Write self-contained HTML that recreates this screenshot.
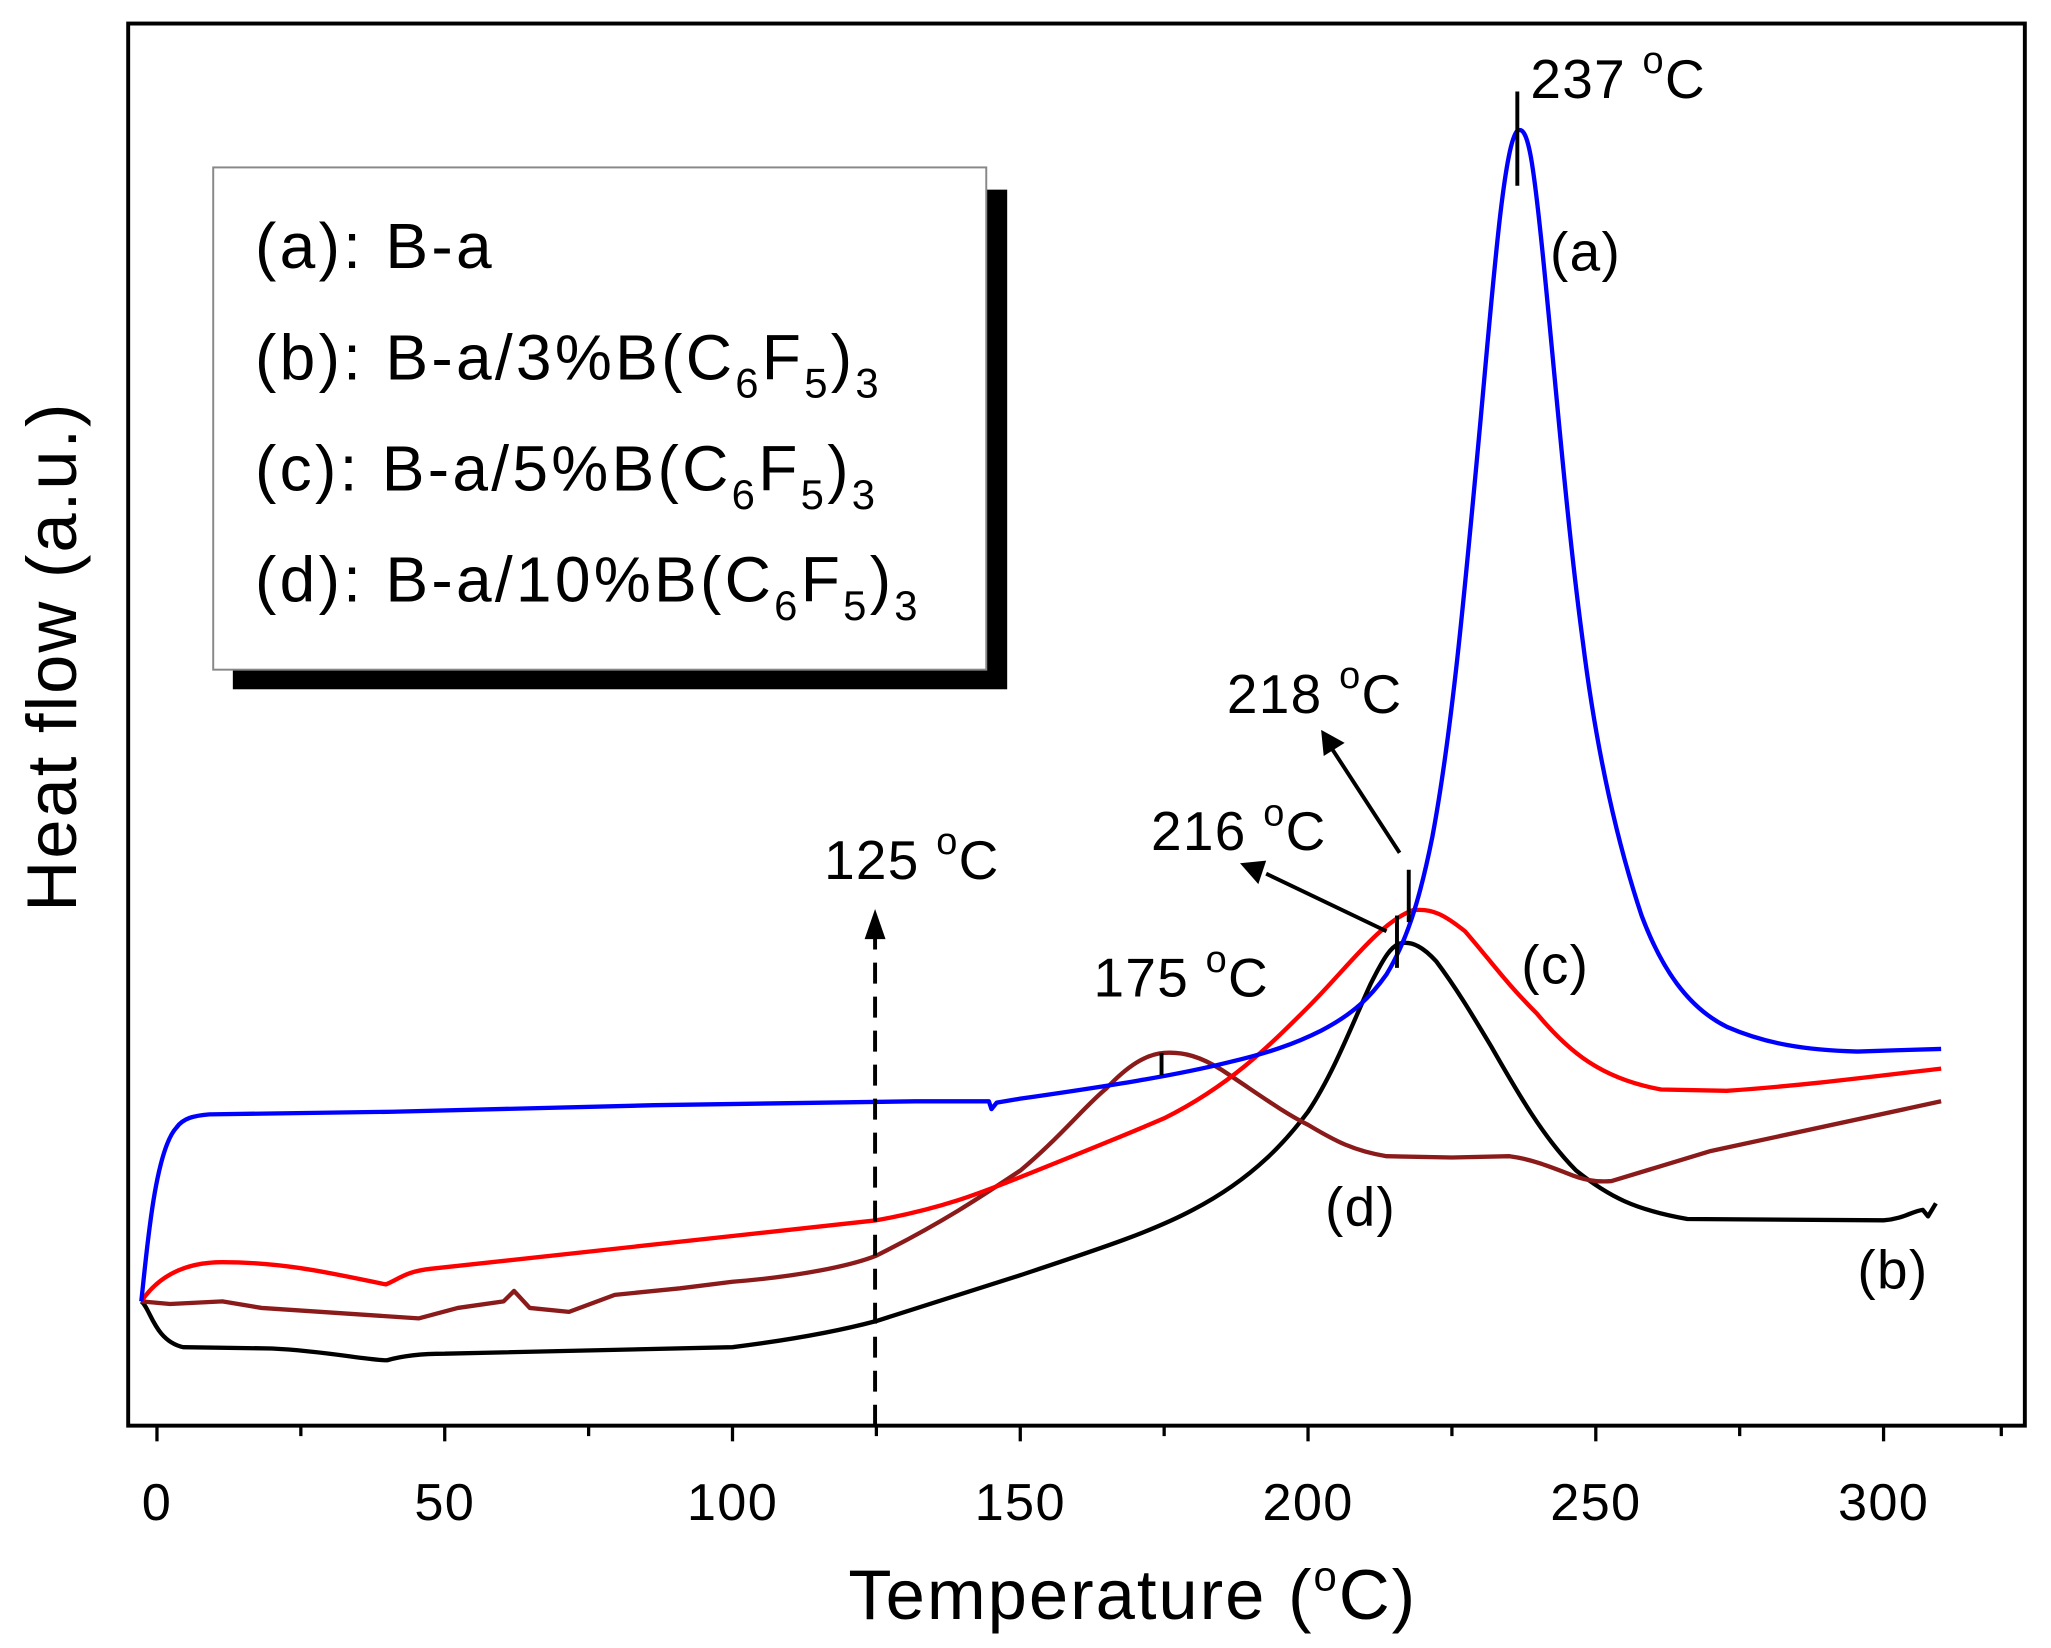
<!DOCTYPE html>
<html><head><meta charset="utf-8"><style>html,body{margin:0;padding:0;background:#fff}svg{display:block}</style></head><body>
<svg width="2051" height="1648" viewBox="0 0 1568 1260" preserveAspectRatio="none" xmlns="http://www.w3.org/2000/svg" font-family="Liberation Sans, sans-serif">
<rect x="98" y="18" width="1450" height="1072" fill="none" stroke="#000" stroke-width="3"/>
<g stroke="#000" stroke-width="2.5">
<line x1="120" y1="1090" x2="120" y2="1102"/><line x1="230" y1="1090" x2="230" y2="1098"/>
<line x1="340" y1="1090" x2="340" y2="1102"/><line x1="450" y1="1090" x2="450" y2="1098"/>
<line x1="560" y1="1090" x2="560" y2="1102"/><line x1="670" y1="1090" x2="670" y2="1098"/>
<line x1="780" y1="1090" x2="780" y2="1102"/><line x1="890" y1="1090" x2="890" y2="1098"/>
<line x1="1000" y1="1090" x2="1000" y2="1102"/><line x1="1110" y1="1090" x2="1110" y2="1098"/>
<line x1="1220" y1="1090" x2="1220" y2="1102"/><line x1="1330" y1="1090" x2="1330" y2="1098"/>
<line x1="1440" y1="1090" x2="1440" y2="1102"/><line x1="1530" y1="1090" x2="1530" y2="1098"/>
</g>
<g font-size="40" text-anchor="middle" letter-spacing="1">
<text x="120" y="1162">0</text><text x="340" y="1162">50</text><text x="560" y="1162">100</text>
<text x="780" y="1162">150</text><text x="1000" y="1162">200</text><text x="1220" y="1162">250</text><text x="1440" y="1162">300</text>
</g>
<text x="866" y="1238" font-size="54" letter-spacing="1.5" text-anchor="middle">Temperature (<tspan font-size="32" dy="-22">o</tspan><tspan dy="22">C)</tspan></text>
<text transform="translate(58,502) rotate(-90)" font-size="54" letter-spacing="1.5" text-anchor="middle">Heat flow (a.u.)</text>
<rect x="178" y="145" width="592" height="382" fill="#000"/>
<rect x="163" y="128" width="591" height="384" fill="#fff" stroke="#888" stroke-width="1.5"/>
<g font-size="49" letter-spacing="2.5">
<text x="195" y="205">(a): B-a</text>
<text x="195" y="290">(b): B-a/3%B(C<tspan font-size="32" dy="14">6</tspan><tspan dy="-14">F</tspan><tspan font-size="32" dy="14">5</tspan><tspan dy="-14">)</tspan><tspan font-size="32" dy="14">3</tspan></text>
<text x="195" y="375">(c): B-a/5%B(C<tspan font-size="32" dy="14">6</tspan><tspan dy="-14">F</tspan><tspan font-size="32" dy="14">5</tspan><tspan dy="-14">)</tspan><tspan font-size="32" dy="14">3</tspan></text>
<text x="195" y="460">(d): B-a/10%B(C<tspan font-size="32" dy="14">6</tspan><tspan dy="-14">F</tspan><tspan font-size="32" dy="14">5</tspan><tspan dy="-14">)</tspan><tspan font-size="32" dy="14">3</tspan></text>
</g>
<g fill="none" stroke-width="3.3" stroke-linejoin="round">
<path stroke="#000" d="M108,995 C115,1000 118,1025 140,1030 L208,1031 C250,1033 280,1040 296,1040 C310,1036 325,1035 340,1035 L560,1030 C600,1025 640,1018 670,1010 L780,975 C840,955 880,942 912,925 C960,900 985,870 1000,850 C1020,820 1035,780 1048,752 C1058,732 1064,722 1072,721 C1080,720 1088,724 1098,735 C1113,755 1125,775 1140,800 C1160,835 1180,870 1205,895 C1230,915 1250,925 1290,932 L1440,933 C1455,932 1462,926 1470,925 L1474,930 L1480,920"/>
<path stroke="#8b1a1a" d="M108,995 L130,997 L170,995 L200,1000 L320,1008 L350,1000 L385,995 L393,987 L405,1000 L435,1003 L470,990 L520,985 L560,980 C610,976 650,968 670,960 C720,935 750,915 780,895 C810,870 830,845 846,832 C862,815 876,806 890,805 C905,804 918,808 934,818 C960,835 980,850 1000,860 C1020,872 1035,880 1060,884 L1110,885 L1154,884 C1170,886 1185,892 1198,897 C1210,902 1220,904 1232,903 L1308,880 L1484,842"/>
<path stroke="#ff0000" d="M108,995 C125,970 150,965 170,965 C220,965 260,975 295,982 C305,978 310,972 330,970 L560,945 L670,933 C720,924 750,912 780,900 C830,880 860,868 890,855 C940,830 970,800 1000,770 C1030,740 1055,705 1080,696 C1095,694 1105,700 1120,712 C1140,735 1150,750 1175,775 C1200,805 1225,825 1270,833 L1320,834 C1380,830 1440,822 1484,817"/>
<path stroke="#0000ff" d="M108,995 C112,960 118,880 135,862 C140,855 148,853 160,852 L300,850 L500,845 L700,842 L756,842 L758,848 L762,843 L780,840 C850,830 900,822 940,812 C970,805 990,798 1010,788 C1035,775 1048,762 1060,745 C1075,720 1085,690 1095,640 C1110,560 1120,450 1132,320 C1142,210 1150,110 1160,100 C1168,95 1172,120 1180,200 C1190,300 1198,400 1210,490 C1220,570 1235,640 1255,700 C1270,740 1290,770 1320,785 C1350,798 1380,803 1420,804 L1450,803 L1484,802"/>
</g>
<g stroke="#000" stroke-width="3" fill="none">
<line x1="1160" y1="70" x2="1160" y2="142"/>
<line x1="888" y1="805" x2="888" y2="822"/>
<line x1="1077" y1="665" x2="1077" y2="705"/>
<line x1="1068" y1="700" x2="1068" y2="740"/>
<line x1="1070" y1="652" x2="1018" y2="572"/>
<line x1="1060" y1="712" x2="968" y2="668"/>
<line x1="669" y1="1090" x2="669" y2="712" stroke-dasharray="16,10"/>
</g>
<g fill="#000">
<polygon points="1010,558 1028,568 1012,578"/>
<polygon points="948,660 968,658 962,676"/>
<polygon points="669,695 661,718 677,718"/>
</g>
<g font-size="42" letter-spacing="1">
<text x="1170" y="75">237 <tspan font-size="29" dy="-19">o</tspan><tspan dy="19">C</tspan></text>
<text x="938" y="545">218 <tspan font-size="29" dy="-19">o</tspan><tspan dy="19">C</tspan></text>
<text x="880" y="650">216 <tspan font-size="29" dy="-19">o</tspan><tspan dy="19">C</tspan></text>
<text x="630" y="672">125 <tspan font-size="29" dy="-19">o</tspan><tspan dy="19">C</tspan></text>
<text x="836" y="762">175 <tspan font-size="29" dy="-19">o</tspan><tspan dy="19">C</tspan></text>
<text x="1185" y="207">(a)</text>
<text x="1163" y="752">(c)</text>
<text x="1013" y="937">(d)</text>
<text x="1420" y="985">(b)</text>
</g>
</svg>
</body></html>
